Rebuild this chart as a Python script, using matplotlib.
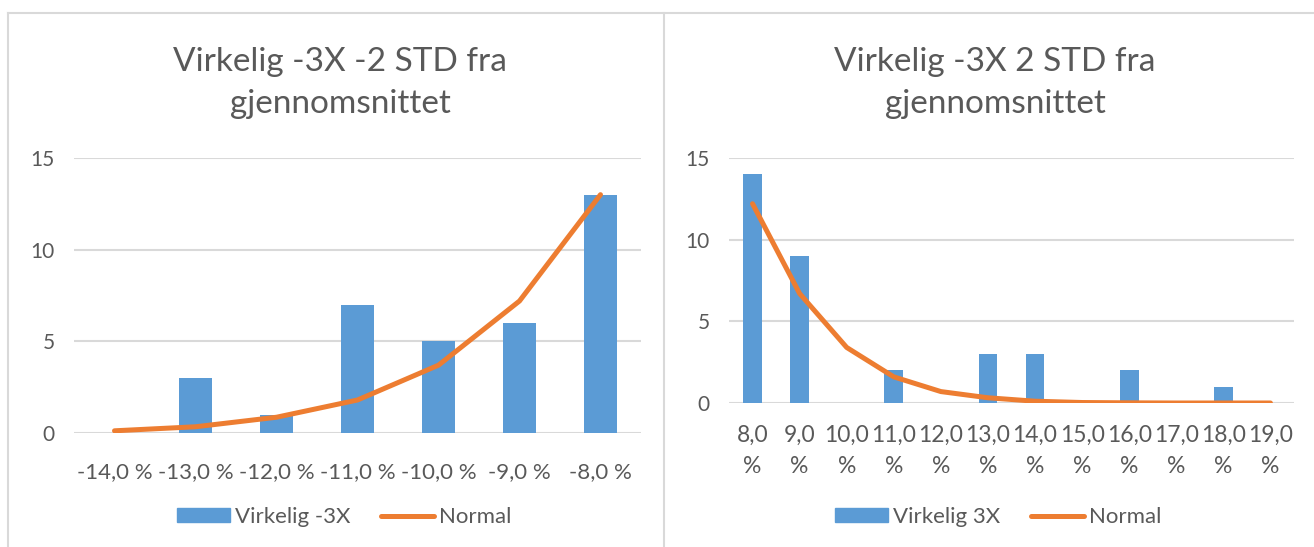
import matplotlib
matplotlib.use("Agg")
import matplotlib.pyplot as plt
from matplotlib.lines import Line2D
from matplotlib.patches import Rectangle

plt.rcParams['font.family'] = ['Lato', 'DejaVu Sans']

# Left chart data
left_title = "Virkelig -3X -2 STD fra\ngjennomsnittet"
left_cats = ["-14,0 %", "-13,0 %", "-12,0 %", "-11,0 %", "-10,0 %", "-9,0 %", "-8,0 %"]
left_bars = [0, 3, 1, 7, 5, 6, 13]
left_normal = [0.12, 0.34, 0.86, 1.8, 3.7, 7.2, 13.0]
left_bar_label = "Virkelig -3X"

# Right chart data
right_title = "Virkelig -3X 2 STD fra\ngjennomsnittet"
right_cats = ["8,0\n%", "9,0\n%", "10,0\n%", "11,0\n%", "12,0\n%", "13,0\n%",
              "14,0\n%", "15,0\n%", "16,0\n%", "17,0\n%", "18,0\n%", "19,0\n%"]
right_bars = [14, 9, 0, 2, 0, 3, 3, 0, 2, 0, 1, 0]
right_normal = [12.2, 6.7, 3.4, 1.6, 0.7, 0.32, 0.11, 0.03, 0.01, 0.0, 0.0, 0.0]
right_bar_label = "Virkelig 3X"

line_label = "Normal"
yticks = [0, 5, 10, 15]

W, H = 1314, 547
BAR = "#5B9BD5"
LINE = "#ED7D31"
GRID = "#D9D9D9"
TXT = "#595959"

fig = plt.figure(figsize=(W / 100, H / 100), dpi=100)
fig.patch.set_facecolor("white")


def px_axes(x0, x1, ytop, ybot):
    return fig.add_axes([x0 / W, (H - ybot) / H, (x1 - x0) / W, (ybot - ytop) / H])


def draw(ax, cats, bars, normal, title, bar_label, title_x, legend_x, xpad, xfs):
    x = list(range(len(cats)))
    ax.bar(x, bars, width=0.4, color=BAR, zorder=2)
    ax.plot(x, normal, color=LINE, lw=3.6, solid_capstyle="round", solid_joinstyle="round", zorder=3)
    ax.set_xlim(-0.5, len(cats) - 0.5)
    ax.set_ylim(0, 15)
    ax.set_yticks(yticks)
    ax.set_xticks(x)
    ax.set_xticklabels(cats, fontsize=xfs, color=TXT, linespacing=1.55)
    ax.tick_params(axis="y", labelsize=15, colors=TXT, length=0, pad=14)
    ax.tick_params(axis="x", length=0, pad=xpad)
    for s in ax.spines.values():
        s.set_visible(False)
    ax.yaxis.grid(True, color=GRID, lw=1.5, zorder=0)
    ax.set_axisbelow(True)
    fig.text(title_x / W, 1 - 83 / H, title, ha="center", va="center", fontsize=24,
             color=TXT, linespacing=1.48)
    handles = [Rectangle((0, 0), 1, 1, color=BAR),
               Line2D([0], [0], color=LINE, lw=3.6, solid_capstyle="round")]
    fig.legend(handles, [bar_label, line_label], loc="center", bbox_to_anchor=(legend_x / W, 1 - 517 / H),
               ncol=2, frameon=False, fontsize=16, labelcolor=TXT, handlelength=2.4,
               handletextpad=0.2, columnspacing=1.4, handleheight=0.6)


axL = px_axes(74, 641, 158, 433)
draw(axL, left_cats, left_bars, left_normal, left_title, left_bar_label, 340, 344, 21, 16)

axR = px_axes(729, 1294, 158, 403)
draw(axR, right_cats, right_bars, right_normal, right_title, right_bar_label, 995, 998, 16, 16.5)

# chart area borders
border = dict(color=GRID, lw=1.5, transform=fig.transFigure)
fig.add_artist(Line2D([8 / W, 8 / W], [0, 1 - 13 / H], **border))
fig.add_artist(Line2D([8 / W, 1], [1 - 13 / H, 1 - 13 / H], **border))
fig.add_artist(Line2D([664 / W, 664 / W], [0, 1 - 13 / H], **border))

fig.savefig("out.png", dpi=100, facecolor="white")
